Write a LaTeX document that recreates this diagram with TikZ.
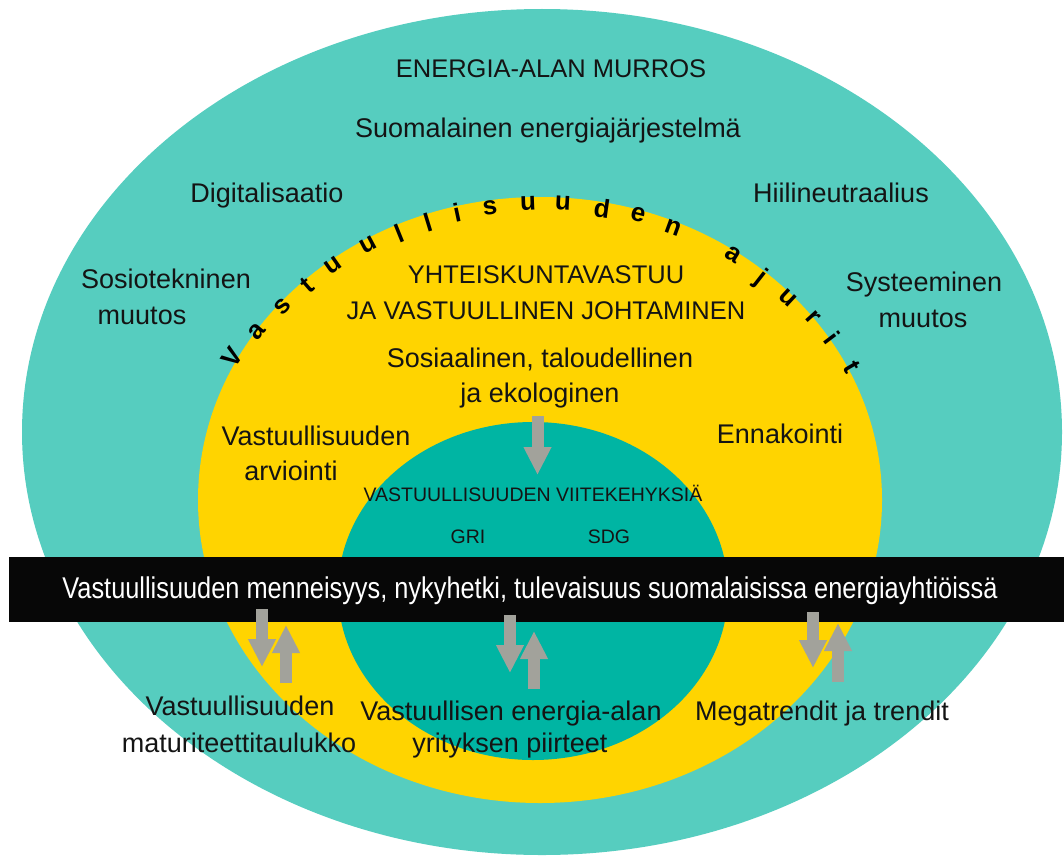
\documentclass[tikz,border=0pt]{standalone}
\usepackage{fontspec}
\setmainfont{Liberation Sans}
\newfontfamily\bandfont[FakeStretch=0.845]{Liberation Sans}
\usetikzlibrary{arrows.meta}

\definecolor{outerteal}{HTML}{56CDBF}
\definecolor{sunyellow}{HTML}{FFD400}
\definecolor{innerteal}{HTML}{00B5A3}
\definecolor{bandblack}{HTML}{070707}
\definecolor{arrowgray}{HTML}{A2A29B}
\definecolor{txt}{HTML}{141414}

\tikzset{
  lbl/.style={anchor=base, text=txt, inner sep=0pt, font=\fontsize{27}{32}\selectfont},
  capslbl/.style={lbl, font=\fontsize{25.5}{30}\selectfont},
  smalllbl/.style={lbl, font=\fontsize{19.5}{24}\selectfont},
  arcletter/.style={text=black, inner sep=0pt, font=\bfseries\fontsize{26}{30}\selectfont},
  garrow/.style={draw=arrowgray, line width=12pt, -{Triangle[width=26pt,length=28pt]}},
}

\begin{document}
\begin{tikzpicture}[x=1pt,y=-1pt]
\useasboundingbox (0,0) rectangle (1064,859);
\fill[white] (0,0) rectangle (1064,859);

% nested ellipses
\fill[outerteal] (542,432) ellipse [x radius=520pt, y radius=423pt];
\fill[sunyellow] (540,500) ellipse [x radius=342pt, y radius=303pt];
\fill[innerteal] (533,591) ellipse [x radius=195pt, y radius=169pt];

% outer ring labels
\node[capslbl] (murros) at (551,77) {ENERGIA-ALAN MURROS};
\node[lbl] (jarj) at (548,137) {Suomalainen energiajärjestelmä};
\node[lbl] (digi) at (267,202) {Digitalisaatio};
\node[lbl] (hiili) at (841,202) {Hiilineutraalius};
\node[lbl] (sosio1) at (166,288) {Sosiotekninen};
\node[lbl] (sosio2) at (142,324) {muutos};
\node[lbl] (syst1) at (924,291) {Systeeminen};
\node[lbl] (syst2) at (923,327) {muutos};

% curved heading along the yellow ring
\foreach \ch/\px/\py/\rot [count=\i] in {
  V/232/357/55, a/257/332/50, s/283/307/46, t/307/285/41, u/333/265/35,
  u/368/245/28, l/399/233/22, l/428/222/17, i/457/213/12, s/490/208/7,
  u/528/203/2, u/563/203/-3, d/602/208/-8, e/638/215/-14, n/673/228/-20,
  a/733/255/-32, j/760/278/-38, u/788/298/-43, r/813/318/-48, i/832/338/-53,
  t/852/367/-60}
  \node[arcletter, rotate=\rot] (arc\i) at (\px,\py) {\ch};

% yellow ring labels
\node[capslbl] (yht1) at (546,283) {YHTEISKUNTAVASTUU};
\node[capslbl] (yht2) at (546,319) {JA VASTUULLINEN JOHTAMINEN};
\node[lbl] (sos1) at (540,367) {Sosiaalinen, taloudellinen};
\node[lbl] (sos2) at (540,402) {ja ekologinen};
\node[lbl] (arv1) at (316,445) {Vastuullisuuden};
\node[lbl] (arv2) at (291,480) {arviointi};
\node[lbl] (ennak) at (780,443) {Ennakointi};

% inner ellipse labels
\node[smalllbl] (viite) at (533,501) {VASTUULLISUUDEN VIITEKEHYKSIÄ};
\node[smalllbl] (gri) at (468,543) {GRI};
\node[smalllbl] (sdg) at (609,543) {SDG};

% black band
\fill[bandblack] (9,557) rectangle (1064,622);
\node[anchor=base, text=white, inner sep=0pt, font=\bandfont\fontsize{30}{36}\selectfont]
  (band) at (530,598) {Vastuullisuuden menneisyys, nykyhetki, tulevaisuus suomalaisissa energiayhtiöissä};

% arrows
\coordinate (t0) at (537.5,416);   \coordinate (t1) at (537.5,475);
\coordinate (l0) at (262,609);     \coordinate (l1) at (262,667);
\coordinate (l2) at (286,683);     \coordinate (l3) at (286,625);
\coordinate (m0) at (510,615);     \coordinate (m1) at (510,673);
\coordinate (m2) at (534,689);     \coordinate (m3) at (534,631);
\coordinate (r0) at (813,612);     \coordinate (r1) at (813,668);
\coordinate (r2) at (838,682);     \coordinate (r3) at (838,623);
\draw[garrow] (t0) -- (t1);
\draw[garrow] (l0) -- (l1);
\draw[garrow] (l2) -- (l3);
\draw[garrow] (m0) -- (m1);
\draw[garrow] (m2) -- (m3);
\draw[garrow] (r0) -- (r1);
\draw[garrow] (r2) -- (r3);

% bottom labels
\node[lbl] (mat1) at (240,715) {Vastuullisuuden};
\node[lbl] (mat2) at (239,752) {maturiteettitaulukko};
\node[lbl] (yr1) at (511,720) {Vastuullisen energia-alan};
\node[lbl] (yr2) at (510,752) {yrityksen piirteet};
\node[lbl] (mega) at (822,720) {Megatrendit ja trendit};
\end{tikzpicture}
\end{document}
